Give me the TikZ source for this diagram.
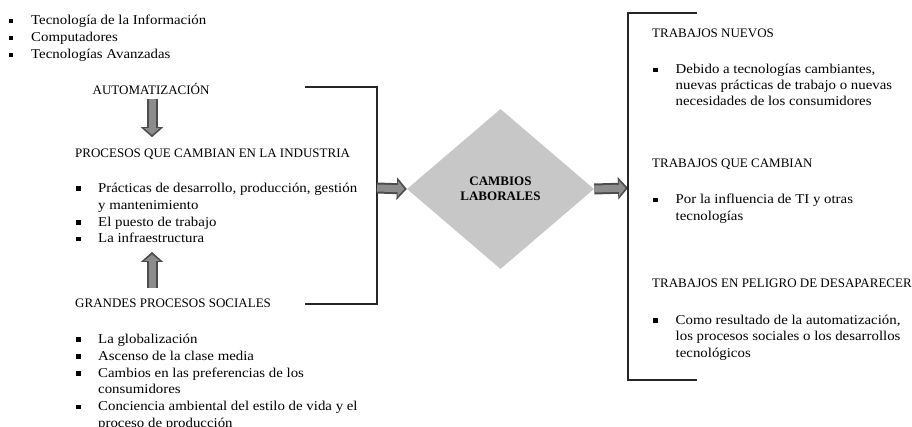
\documentclass[tikz,border=0pt]{standalone}
\usepackage{fontspec}
\setmainfont{Liberation Serif}
\newfontfamily\bodyfont[FakeStretch=1.1]{Liberation Serif}
\usetikzlibrary{shapes.geometric,arrows.meta,positioning,calc}

% small square bullet
\newcommand{\sqb}{\rule[1.5pt]{4.5pt}{4.5pt}}

\tikzset{
  txt/.style={inner sep=0pt, anchor=base west, font=\fontsize{13}{16.7}\selectfont},
  lst/.style={txt, font=\bodyfont\fontsize{13.5}{16.8}\selectfont},
  bracket/.style={line width=2.6pt, black!85},
  blockarrow/.style={draw=black!70, line width=11pt, -{Triangle[length=10pt,width=22pt]},
    postaction={draw=black!45, line width=7pt, shorten >=2.5pt, -{Triangle[length=6.5pt,width=15pt]}}},
  decision/.style={diamond, fill=black!22, minimum width=187pt, minimum height=160pt,
    inner sep=0pt, align=center, font=\fontsize{13}{15}\selectfont\bfseries}
}

\begin{document}
\begin{tikzpicture}[x=1pt,y=-1pt]
\useasboundingbox (0,0) rectangle (912,427);

% left column
\node[lst] (tech) at (8.5,25) {\begin{tabular}[t]{@{}p{22.5pt}@{}l@{}}
  \sqb & Tecnología de la Información\\
  \sqb & Computadores\\
  \sqb & Tecnologías Avanzadas
\end{tabular}};
\node[txt] (auto) at (92.5,94.5) {AUTOMATIZACIÓN};

\node[txt] (proc) at (75,158) {PROCESOS QUE CAMBIAN EN LA INDUSTRIA};
\node[lst] (proclist) at (76,192.5) {\begin{tabular}[t]{@{}p{22pt}@{}l@{}}
  \sqb & Prácticas de desarrollo, producción, gestión\\
       & y mantenimiento\\
  \sqb & El puesto de trabajo\\
  \sqb & La infraestructura
\end{tabular}};

\node[txt] (social) at (75,307.5) {GRANDES PROCESOS SOCIALES};
\node[lst] (sociallist) at (76,343.5) {\begin{tabular}[t]{@{}p{22pt}@{}l@{}}
  \sqb & La globalización\\
  \sqb & Ascenso de la clase media\\
  \sqb & Cambios en las preferencias de los\\
       & consumidores\\
  \sqb & Conciencia ambiental del estilo de vida y el\\
       & proceso de producción
\end{tabular}};

% vertical arrows
\coordinate (axis) at (152,0);
\coordinate (autoout) at ($(axis |- auto.south)+(0,4.5)$);
\coordinate (procin) at ($(axis |- proc.north)+(0,-12)$);
\coordinate (socialout) at ($(axis |- social.north)+(0,-11)$);
\coordinate (procup) at (axis |- 0,252);
\draw[blockarrow] (autoout) -- (procin);
\draw[blockarrow] (socialout) -- (procup);

% left bracket
\coordinate (lt) at (305,87);
\coordinate (lb) at (305,304);
\coordinate (lout) at (377,188);
\draw[bracket] (lt) -- (377,87) -- (377,304) -- (lb);

% centre
\node[decision] (cambios) at (500.5,189) {CAMBIOS\\LABORALES};
\coordinate (rin) at (628,188);
\draw[blockarrow] (lout) -- (cambios.west);
\draw[blockarrow] (cambios.east) -- (rin);

% right bracket
\draw[bracket] (697,13) -- (628,13) -- (628,380) -- (697,380);

% right column
\node[txt] (nuevos) at (652,37.5) {TRABAJOS NUEVOS};
\node[lst,font=\bodyfont\fontsize{13.5}{15.7}\selectfont] (nuevoslist) at (653,74) {\begin{tabular}[t]{@{}p{22.5pt}@{}l@{}}
  \sqb & Debido a tecnologías cambiantes,\\
       & nuevas prácticas de trabajo o nuevas\\
       & necesidades de los consumidores
\end{tabular}};

\node[txt] (cambian) at (652,167.5) {TRABAJOS QUE CAMBIAN};
\node[lst] (cambianlist) at (653,204) {\begin{tabular}[t]{@{}p{22.5pt}@{}l@{}}
  \sqb & Por la influencia de TI y otras\\
       & tecnologías
\end{tabular}};

\node[txt] (peligro) at (652,287.5) {TRABAJOS EN PELIGRO DE DESAPARECER};
\node[lst] (peligrolist) at (653,324) {\begin{tabular}[t]{@{}p{22.5pt}@{}l@{}}
  \sqb & Como resultado de la automatización,\\
       & los procesos sociales o  los desarrollos\\
       & tecnológicos
\end{tabular}};
\end{tikzpicture}
\end{document}
